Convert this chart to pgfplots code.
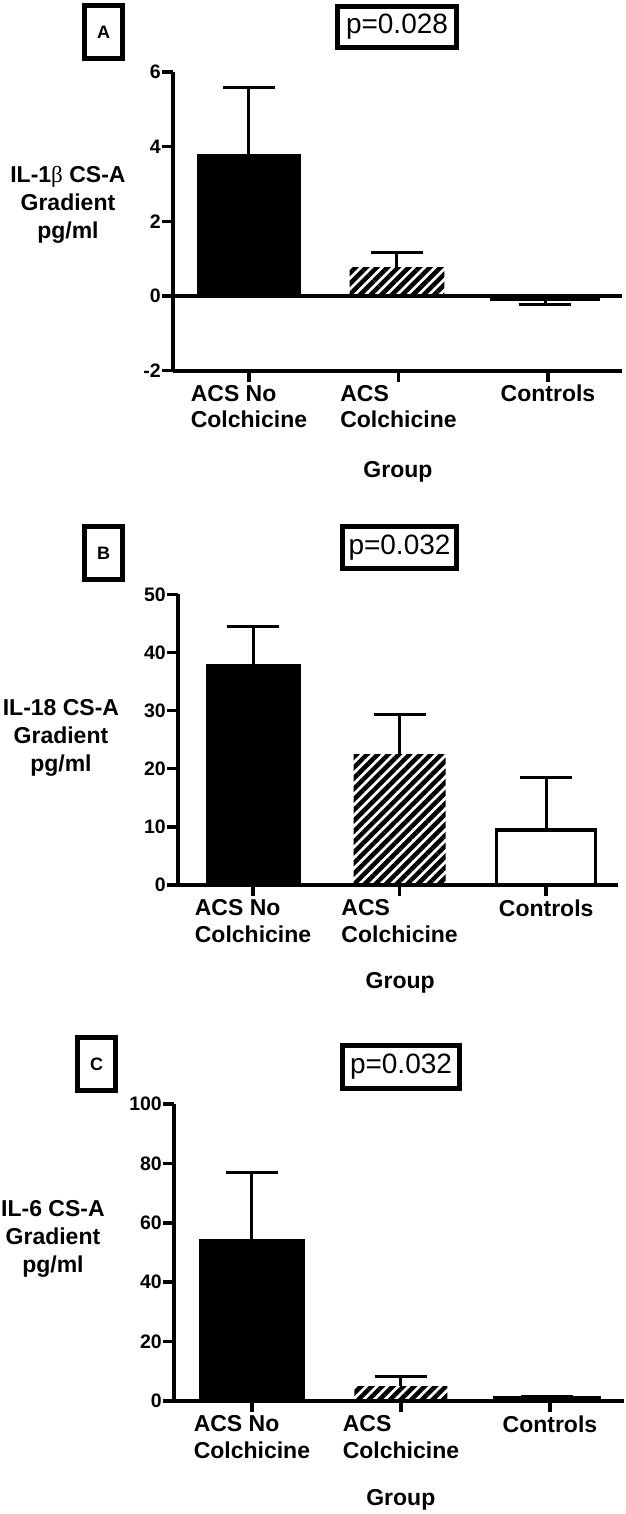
\documentclass[border=0pt]{standalone}
\usepackage{fontspec}
\setmainfont{Liberation Sans}
\newfontfamily\grk{Liberation Serif}
\usepackage{pgfplots}
\pgfplotsset{compat=1.18}
\usetikzlibrary{patterns.meta}

\newcommand\xtfont{\fontsize{23}{26.7}\selectfont\bfseries}
\newcommand\ytfont{\fontsize{19.5}{19.5}\selectfont\bfseries}
\newcommand\lblfont{\fontsize{23}{28}\selectfont\bfseries}
\newcommand\pfont{\fontsize{28}{28}\selectfont}
\newcommand\boxfont{\fontsize{18}{18}\selectfont\bfseries}

\pgfplotsset{
  panel/.style={
    scale only axis, anchor=south west,
    axis lines=left, axis line style={-, line width=4pt},
    tick align=outside, major tick length=11pt,
    tick style={line width=3.5pt, black},
    xtick={0,1,2},
    xticklabels={{ACS No\\Colchicine},{ACS\\Colchicine},Controls},
    xticklabel style={align=left, font=\xtfont, anchor=north},
    yticklabel style={font=\ytfont, inner xsep=1pt},
    /pgf/number format/assume math mode=true,
    ybar, clip=false,
    xlabel={Group},
  },
  ylab/.style 2 args={every axis y label/.style={at={(rel axis cs:#1,#2)}, anchor=center, align=center, font=\lblfont}},
  xlab/.style 2 args={every axis x label/.style={at={(rel axis cs:#1,#2)}, anchor=center, font=\lblfont}},
  solidbar/.style={bar shift=0pt, fill=black, draw=black, line width=3pt},
  hatchbar/.style={bar shift=0pt, draw=none, pattern={Lines[angle=45,distance=7.5pt,line width=4.5pt]}, pattern color=black},
  whitebar/.style={bar shift=0pt, fill=white, draw=black, line width=3.5pt},
  eb/.style={error bars/.cd, y dir=#1, y explicit, error mark=|,
    error bar style={line width=3pt, black, solid},
    error mark options={line width=3pt, mark size=26pt, black}},
}

\begin{document}
\begin{tikzpicture}[x=1pt,y=1pt]
\useasboundingbox (0,0) rectangle (625,-1514);

% ---------- Panel A ----------
\begin{axis}[panel, at={(173pt,-370.7pt)}, width=449pt, height=298.7pt,
  xmin=-0.508, xmax=2.495, ymin=-2, ymax=6, ytick={-2,0,2,4,6},
  ylabel={IL-1{\grk\mdseries β} CS-A\\Gradient\\pg/ml},
  ylab={-0.234}{0.555}, xlab={0.501}{-0.339}]
\addplot[solidbar, bar width=0.68, eb=plus] coordinates {(0,3.76) +- (0,1.82)};
\addplot[hatchbar, bar width=0.635, eb=plus] coordinates {(0.99,0.77) +- (0,0.40)};
\addplot[solidbar, bar width=0.716, eb=minus] coordinates {(1.98,-0.09) +- (0,0.15)};
\draw[line width=4pt] (axis cs:-0.508,0) -- (axis cs:2.495,0);
\end{axis}
\node[draw, line width=5pt, minimum width=38pt, minimum height=53pt, inner sep=0pt, font=\boxfont] at (103.5,-32) {A};
\node[draw, line width=5pt, minimum width=119pt, minimum height=41pt, inner sep=0pt, font=\pfont] at (397,-27) {p=0.028};

% ---------- Panel B ----------
\begin{axis}[panel, at={(178pt,-885pt)}, width=440pt, height=290.7pt,
  xmin=-0.512, xmax=2.49, ymin=0, ymax=50, ytick={0,10,20,30,40,50},
  ylabel={IL-18 CS-A\\Gradient\\pg/ml},
  ylab={-0.266}{0.506}, xlab={0.505}{-0.337}]
\addplot[solidbar, bar width=0.628, eb=plus] coordinates {(0,37.7) +- (0,6.8)};
\addplot[hatchbar, bar width=0.628, eb=plus] coordinates {(1,22.4) +- (0,7.0)};
\addplot[whitebar, bar width=0.676, eb=plus] coordinates {(2,9.5) +- (0,9.0)};
\end{axis}
\node[draw, line width=5pt, minimum width=38pt, minimum height=53pt, inner sep=0pt, font=\boxfont] at (103.5,-553) {B};
\node[draw, line width=5pt, minimum width=114pt, minimum height=42pt, inner sep=0pt, font=\pfont] at (399.5,-547.5) {p=0.032};

% ---------- Panel C ----------
\begin{axis}[panel, at={(174pt,-1401pt)}, width=450pt, height=297pt,
  xmin=-0.523, xmax=2.497, ymin=0, ymax=100, ytick={0,20,40,60,80,100},
  ylabel={IL-6 CS-A\\Gradient\\pg/ml},
  ylab={-0.269}{0.545}, xlab={0.504}{-0.333}]
\addplot[solidbar, bar width=0.69, eb=plus] coordinates {(0,54.0) +- (0,22.8)};
\addplot[hatchbar, bar width=0.624, eb=plus] coordinates {(1,5.0) +- (0,3.2)};
\addplot[solidbar, bar width=0.70, eb=plus] coordinates {(1.98,1.3) +- (0,0.3)};
\end{axis}
\node[draw, line width=5pt, minimum width=38pt, minimum height=53pt, inner sep=0pt, font=\boxfont] at (96.5,-1064) {C};
\node[draw, line width=5pt, minimum width=117pt, minimum height=43pt, inner sep=0pt, font=\pfont] at (401,-1067) {p=0.032};
\end{tikzpicture}
\end{document}
